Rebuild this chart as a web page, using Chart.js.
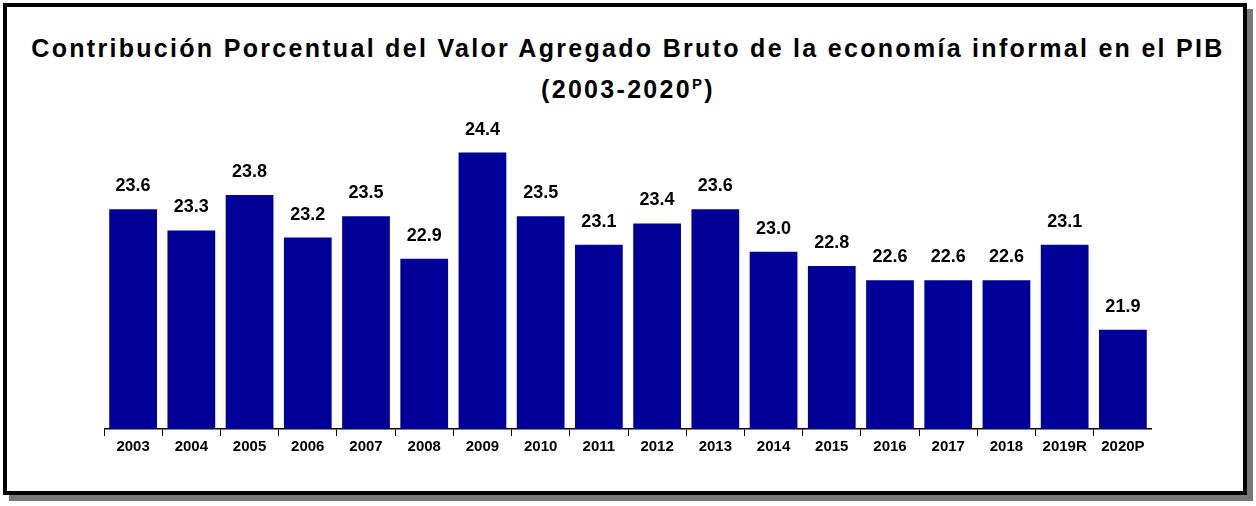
<!DOCTYPE html>
<html><head><meta charset="utf-8">
<script src="https://cdn.jsdelivr.net/npm/chart.js@4"></script>
<style>
body{margin:0;background:#fff;font-family:"Liberation Sans",Arial,sans-serif;}
#frame{position:absolute;left:3px;top:3px;width:1236px;height:484px;border:4px solid #000;box-shadow:6px 6px 0 #777;background:#fff;}
#title{position:absolute;left:0;top:30px;width:1256px;text-align:center;font-weight:bold;font-size:25px;letter-spacing:2.3px;line-height:36px;color:#000;}
#title sup{font-size:15px;}
#wrap{position:absolute;left:104px;top:110px;width:1048px;height:348px;}
</style></head><body>
<div id="frame"></div>
<div id="title">Contribución Porcentual del Valor Agregado Bruto de la economía informal en el PIB<br>(2003-2020<sup>P</sup>)</div>
<div id="wrap"><canvas id="c"></canvas></div>
<script>
const years = ["2003","2004","2005","2006","2007","2008","2009","2010","2011","2012","2013","2014","2015","2016","2017","2018","2019R","2020P"];
const shares = [23.6,23.3,23.8,23.2,23.5,22.9,24.4,23.5,23.1,23.4,23.6,23.0,22.8,22.6,22.6,22.6,23.1,21.9];

const barLabels = {
    id: "barLabels",
    afterDatasetsDraw(chart) {
        const ctx = chart.ctx;
        ctx.save();
        ctx.font = "bold 18px 'Liberation Sans', Arial";
        ctx.fillStyle = "#000";
        ctx.textAlign = "center";
        ctx.textBaseline = "bottom";
        chart.getDatasetMeta(0).data.forEach((bar, i) => {
            ctx.fillText(shares[i].toFixed(1), bar.x, bar.y - 14);
        });
        ctx.restore();
    }
};

new Chart(document.getElementById("c"), {
    type: "bar",
    data: {
        labels: years,
        datasets: [{
            data: shares,
            backgroundColor: "#000099",
            barPercentage: 0.82,
            categoryPercentage: 1
        }]
    },
    options: {
        responsive: true,
        maintainAspectRatio: false,
        animation: false,
        plugins: {legend: {display: false}, tooltip: {enabled: false}},
        scales: {
            x: {
                grid: {offset: true, drawOnChartArea: false, color: "#000", tickLength: 7},
                border: {color: "#000", width: 1.5},
                ticks: {color: "#000", font: {weight: "bold", size: 15, family: "'Liberation Sans', Arial"}, padding: 2}
            },
            y: {display: false, min: 20.5, max: 25.0}
        }
    },
    plugins: [barLabels]
});
</script>
</body></html>
